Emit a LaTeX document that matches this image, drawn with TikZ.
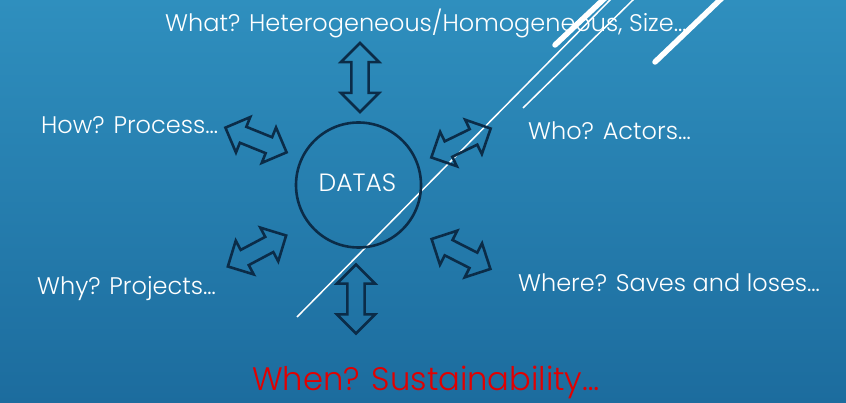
\documentclass[tikz,border=0pt]{standalone}
\usepackage{fontspec}
\setmainfont{Poppins Light}
\newfontfamily\redfont[FakeStretch=0.99]{Poppins Light}
\usetikzlibrary{shapes.arrows}
\definecolor{bgtop}{RGB}{47,143,190}
\definecolor{bgbot}{RGB}{28,108,158}
\definecolor{navy}{RGB}{11,44,72}
\definecolor{txtred}{RGB}{226,0,0}
\tikzset{
  dblarrow/.style={double arrow, draw=navy, line width=2.6pt, fill=none,
    minimum height=66pt, double arrow head extend=10.5pt,
    inner xsep=0pt, inner ysep=7.3pt},
  label/.style={anchor=base west, text=white, font=\fontsize{24}{27}\selectfont, inner sep=0pt},
  thickline/.style={white, line width=5.5pt, line cap=round},
  thinline/.style={white, line width=1.5pt}
}
\begin{document}
\begin{tikzpicture}[x=1pt,y=-1pt]
\clip (0,0) rectangle (846,403);
\shade[top color=bgtop, bottom color=bgbot] (0,0) rectangle (846,403);
% decorative lines
\coordinate (l1a) at (297,317); \coordinate (l1b) at (612,-2);
\coordinate (l2a) at (523,108); \coordinate (l2b) at (636,-3);
\coordinate (l3a) at (555,45);  \coordinate (l3b) at (606,-3);
\coordinate (l4a) at (655,62);  \coordinate (l4b) at (723,-3);
\draw[thinline] (l1a) -- (l1b);
\draw[thinline] (l2a) -- (l2b);
\draw[thickline] (l3a) -- (l3b);
\draw[thickline] (l4a) -- (l4b);
% circle
\node[circle, draw=navy, line width=2.6pt, minimum size=125pt, inner sep=0pt] (datas) at (358.5,185) {};
\node[anchor=base, text=white, font=\fontsize{25}{28}\selectfont, inner sep=0pt] (datastxt) at (357.5,192) {DATAS};
% arrows
\node[dblarrow, minimum height=69pt, rotate=90] (atop) at (360,77.5) {};
\node[dblarrow, minimum height=69pt, rotate=90] (abot) at (356,299) {};
\node[dblarrow, rotate=-22] (aul) at (256,140) {};
\node[dblarrow, rotate=26] (aur) at (461,143) {};
\node[dblarrow, rotate=28] (all) at (257,251) {};
\node[dblarrow, rotate=-27] (alr) at (461,254) {};
% labels
\node[label] (what) at (165,32) {What? Heterogeneous/Homogeneous, Size\ldots};
\node[label] (how) at (41,134) {How? Process\ldots};
\node[label] (who) at (528,140) {Who? Actors\ldots};
\node[label] (why) at (37,295) {Why? Projects\ldots};
\node[label] (where) at (518,291.5) {Where? Saves and loses\ldots};
\node[anchor=base west, text=txtred, inner sep=0pt, font=\redfont\fontsize{32.5}{35}\selectfont] (when) at (252,390) {When? Sustainability\ldots};
\end{tikzpicture}
\end{document}
